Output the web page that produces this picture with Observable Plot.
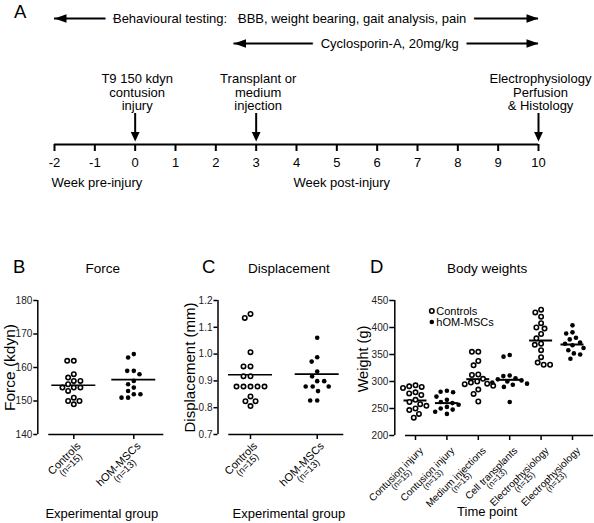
<!DOCTYPE html>
<html><head><meta charset="utf-8">
<script src="https://cdn.jsdelivr.net/npm/d3@7"></script>
<script src="https://cdn.jsdelivr.net/npm/@observablehq/plot@0.6"></script>
<style>
body{margin:0;background:#fff;}
#root{position:relative;width:594px;height:523px;overflow:hidden;font-family:"Liberation Sans",Arial,Helvetica,sans-serif;color:#000;}
.panel{position:absolute;}
.letter{position:absolute;font-size:18.5px;line-height:1;}
</style></head><body><div id="root"></div>
<script>
// ---------- DATA ----------
// Panel A: timeline
const weeks = [-2, -1, 0, 1, 2, 3, 4, 5, 6, 7, 8, 9, 10];
const periodNames = ["Behavioural testing:\u00a0\u00a0\u00a0BBB, weight bearing, gait analysis, pain", "Cyclosporin-A, 20mg/kg"];
const periodStart = [-2, 2.45];
const periodEnd = [10, 10];
const periodLabelAt = [3.83, 6.31];
const eventWeeks = [0, 3, 10];
const eventLabels = ["T9 150 kdyn\ncontusion\ninjury", "Transplant or\nmedium\ninjection", "Electrophysiology\nPerfusion\n& Histology"];
const phaseLabels = ["Week pre-injury", "Week post-injury"];
const phaseAt = [-2, 4];

// Panels B & C
const groupsBC = ["Controls", "hOM-MSCs"];
const groupNBC = ["(n=15)", "(n=13)"];
const forceControls = [162, 162, 158, 157, 156, 156, 155, 154, 154, 154, 153, 151, 150, 150, 149];
const forceMSC = [164, 163, 159, 159, 158, 156, 155, 154, 153, 152, 152, 151, 151];
const forceMeans = [154.7, 156.4];
const forceTicks = [140, 150, 160, 170, 180];

const dispControls = [1.15, 1.135, 1.007, 0.954, 0.954, 0.917, 0.917, 0.879, 0.879, 0.879, 0.879, 0.879, 0.842, 0.824, 0.824, 0.806];
const dispMSC = [1.061, 0.988, 0.972, 0.935, 0.917, 0.899, 0.899, 0.879, 0.879, 0.879, 0.862, 0.827, 0.827];
const dispMeans = [0.923, 0.925];
const dispTicks = [0.7, 0.8, 0.9, 1.0, 1.1, 1.2];

// Panel D
const groupsD = ["Contusion injury", "Contusion injury", "Medium injections", "Cell transplants", "Electrophysiology", "Electrophysiology"];
const groupND = ["(n=15)", "(n=13)", "(n=15)", "(n=13)", "(n=15)", "(n=13)"];
const seriesNames = ["Controls", "hOM-MSCs"];
const weightContusionCtrl = [293, 291, 290, 288, 280, 278, 275, 266, 262, 258, 255, 250, 247, 240, 233];
const weightContusionMSC = [283, 281, 280, 272, 266, 262, 260, 257, 253, 250, 248, 244, 240];
const weightMediumCtrl = [355, 355, 338, 330, 313, 312, 305, 300, 298, 296, 295, 292, 285, 277, 263];
const weightTransplantMSC = [349, 346, 311, 310, 306, 304, 302, 300, 298, 296, 294, 290, 262];
const weightElectroCtrl = [433, 428, 420, 408, 400, 398, 388, 380, 370, 368, 358, 345, 335, 331, 331];
const weightElectroMSC = [404, 391, 389, 381, 378, 372, 370, 367, 362, 358, 352, 350, 342];
const weightMeans = [264.8, 260, 304.3, 303.1, 375.9, 368.5];
const weightTicks = [200, 250, 300, 350, 400, 450];

// ---------- HELPERS ----------
const FONT = '"Liberation Sans", Arial, Helvetica, sans-serif';
const root = document.getElementById("root");
const baseStyle = {fontFamily: FONT, fontSize: "10px", background: "transparent", overflow: "visible", maxWidth: "none", color: "black"};
const cv = document.createElement("canvas").getContext("2d");
function textWidth(s, size) { cv.font = `${size}px ${FONT}`; return cv.measureText(s).width; }
function place(node, left, top) {
  const d = document.createElement("div");
  d.className = "panel"; d.style.left = left + "px"; d.style.top = top + "px";
  d.appendChild(node); root.appendChild(d);
}
function letter(t, left, top) {
  const d = document.createElement("div");
  d.className = "letter"; d.textContent = t; d.style.left = left + "px"; d.style.top = top + "px";
  root.appendChild(d);
}
const headRight = {draw(c) { c.moveTo(0, 0); c.lineTo(-12, -4.3); c.lineTo(-12, 4.3); c.closePath(); }};
const headLeft = {draw(c) { c.moveTo(0, 0); c.lineTo(12, -4.3); c.lineTo(12, 4.3); c.closePath(); }};
const headDown = {draw(c) { c.moveTo(0, 0); c.lineTo(-4.4, -9.5); c.lineTo(4.4, -9.5); c.closePath(); }};

function swarm(ys, d) {
  const order = d3.range(ys.length).sort((a, b) => ys[a] - ys[b]);
  const placed = [], out = new Array(ys.length);
  for (const i of order) {
    const y = ys[i];
    const cands = [0];
    for (const p of placed) {
      const dy = Math.abs(p.y - y);
      if (dy < d) { const dx = Math.sqrt(d * d - dy * dy); cands.push(p.x - dx, p.x + dx); }
    }
    cands.sort((a, b) => Math.abs(a) - Math.abs(b) || a - b);
    let best = 0;
    for (const c of cands) {
      if (placed.every(p => (p.x - c) ** 2 + (p.y - y) ** 2 >= d * d - 1e-6)) { best = c; break; }
    }
    out[i] = best; placed.push({x: best, y});
  }
  return out;
}

function catLabels(names, ns, o) {
  const u = Math.SQRT1_2;
  return names.flatMap((name, i) => {
    const w = textWidth(name, o.size1);
    return [
      Plot.text([i], {x: d => d, frameAnchor: "bottom", lineAnchor: "middle", text: () => name, rotate: -45, textAnchor: "end", fontSize: o.size1, dx: o.ax, dy: o.ay}),
      Plot.text([i], {x: d => d, frameAnchor: "bottom", lineAnchor: "middle", text: () => ns[i], rotate: -45, textAnchor: "middle", fontSize: o.size2,
        dx: o.ax - u * w / 2 + u * o.gap, dy: o.ay + u * w / 2 + u * o.gap})
    ];
  });
}

// ---------- PANEL A ----------
const periods = periodNames.map((name, i) => ({name, from: periodStart[i], to: periodEnd[i], at: periodLabelAt[i]}));
const events = eventWeeks.map((week, i) => ({week, label: eventLabels[i]}));
const A = {width: 594, height: 200, marginTop: 0, marginBottom: 56};
const frameBottomA = A.height - A.marginBottom;
const frameCenterA = (A.marginTop + A.height - A.marginBottom) / 2;
const plotA = Plot.plot({
  width: A.width, height: A.height,
  marginLeft: 54, marginRight: 56, marginTop: A.marginTop, marginBottom: A.marginBottom,
  x: {domain: [weeks[0], weeks[weeks.length - 1]]},
  y: {type: "point", domain: periodNames, range: [17.5, 42.7], padding: 0, axis: null},
  style: {...baseStyle, fontSize: "13px"},
  marks: [
    Plot.ruleY(periods, {y: "name", x1: "from", x2: "to", strokeWidth: 2}),
    Plot.dot(periods, {y: "name", x: "from", symbol: headLeft, fill: "black", stroke: "none"}),
    Plot.dot(periods, {y: "name", x: "to", symbol: headRight, fill: "black", stroke: "none"}),
    Plot.text(periods, {y: "name", x: "at", text: "name", fill: "black", stroke: "white", strokeWidth: 17, paintOrder: "stroke", fontSize: 13}),
    Plot.ruleX(events, {x: "week", insetTop: 113, insetBottom: 11, strokeWidth: 2}),
    Plot.dot(events, {x: "week", frameAnchor: "top", dy: 141, symbol: headDown, fill: "black", stroke: "none"}),
    Plot.text(events, {x: "week", text: "label", frameAnchor: "top", lineAnchor: "middle", textAnchor: "middle", dy: 92, dx: 2, lineHeight: 1.04, fontSize: 13}),
    Plot.ruleY([{from: weeks[0], to: weeks[weeks.length - 1]}], {x1: "from", x2: "to", y: null, dy: frameBottomA - frameCenterA, strokeWidth: 2}),
    Plot.axisX(weeks, {tickSize: 7, tickPadding: 6.5, strokeWidth: 2, fontSize: 13, tickFormat: d => `${d}`, label: null, fill: "black"}),
    Plot.text(phaseLabels, {x: (d, i) => phaseAt[i], text: d => d, frameAnchor: "bottom", lineAnchor: "middle", dy: 38.7, dx: -3, textAnchor: "start", fontSize: 13})
  ]
});
place(plotA, 0, 0);

// ---------- DOT PANELS ----------
function dotPanel(c) {
  const height = 273, marginTop = 50;
  const n = c.groups.length;
  const yPx = d3.scaleLinear(c.yDomain, [height - c.marginBottom, marginTop]);
  const spacing = (c.xRange[1] - c.xRange[0]) / (n - 1);
  const pts = [];
  c.series.forEach((vals, g) => {
    const offs = swarm(vals.map(yPx), c.minDist);
    vals.forEach((v, k) => pts.push({g, value: v, xi: g + offs[k] / spacing, open: c.open[g]}));
  });
  const hw = c.meanHalfPx / spacing;
  const axisAt = (c.marginLeft - c.xRange[0]) / spacing; // frame left, in group units
  const marks = [
    Plot.ruleX([axisAt], {y1: c.yDomain[0], y2: c.yDomain[1], strokeWidth: 1.5}),
    Plot.axisY(c.ticks, {tickSize: c.tickSize || 4, tickPadding: 1.5, strokeWidth: 1.5, fontSize: 10, tickFormat: c.tickFormat, label: null, fill: "#222"}),
    Plot.axisX(d3.range(n), {tickSize: 5, strokeWidth: 1.5, tickFormat: () => "", label: null}),
    Plot.ruleY([c.yDomain[0]], {insetLeft: c.baseInset, strokeWidth: 1.5}),
    Plot.ruleY(c.means, {y: d => d, x1: (d, i) => i - hw, x2: (d, i) => i + hw, strokeWidth: c.meanWidth}),
    Plot.dot(pts.filter(p => p.open), {x: "xi", y: "value", r: 2.2, stroke: "black", strokeWidth: 1.6, fill: "white"}),
    Plot.dot(pts.filter(p => !p.open), {x: "xi", y: "value", r: 2.3, fill: "black", stroke: "none"}),
    Plot.text([c.title], {frameAnchor: "top", lineAnchor: "middle", textAnchor: "middle", dy: -32, dx: c.titleDx, fontSize: 13.5}),
    Plot.text([c.yLabel], {frameAnchor: "left", lineAnchor: "middle", textAnchor: "middle", rotate: -90, dx: c.yLabelDx, dy: c.yLabelDy || 0, fontSize: c.yLabelSize}),
    Plot.text([c.xLabel], {frameAnchor: "bottom", lineAnchor: "middle", textAnchor: "middle", dy: c.xLabelDy, dx: c.xLabelDx, fontSize: 13}),
    ...catLabels(c.groups, c.ns, c.cat),
    ...(c.legend || [])
  ];
  const p = Plot.plot({
    width: c.width, height, marginTop, marginBottom: c.marginBottom,
    marginLeft: c.marginLeft, marginRight: c.marginRight,
    x: {domain: [0, n - 1], range: c.xRange},
    y: {domain: c.yDomain},
    style: baseStyle,
    marks
  });
  place(p, c.left, 250);
}

// Panel B
dotPanel({
  left: 0, width: 190, marginLeft: 37.3, marginRight: 26.7, marginBottom: 89,
  xRange: [73.3, 133.3], yDomain: [forceTicks[0], forceTicks[forceTicks.length - 1]], ticks: forceTicks, tickFormat: d => `${d}`,
  groups: groupsBC, ns: groupNBC, series: [forceControls, forceMSC], open: [true, false], means: forceMeans,
  minDist: 6.6, meanHalfPx: 22, meanWidth: 1.7, baseInset: 11,
  title: "Force", titleDx: 2, yLabel: "Force (kdyn)", yLabelDx: -27.3, yLabelSize: 15.5,
  xLabel: "Experimental group", xLabelDx: 1, xLabelDy: 79,
  cat: {size1: 11, size2: 9.5, ax: 5, ay: 9.5, gap: 9}
});

// Panel C
dotPanel({
  left: 170, width: 210, marginLeft: 47.5, marginRight: 36.7, marginBottom: 89,
  xRange: [80, 146.7], yDomain: [dispTicks[0], dispTicks[dispTicks.length - 1]], ticks: dispTicks, tickFormat: d3.format(".1f"),
  groups: groupsBC, ns: groupNBC, series: [dispControls, dispMSC], open: [true, false], means: dispMeans,
  minDist: 7, meanHalfPx: 22, meanWidth: 1.7, baseInset: 10.8,
  title: "Displacement", titleDx: 8, yLabel: "Displacement (mm)", yLabelDx: -28, yLabelSize: 15,
  xLabel: "Experimental group", xLabelDx: 8, xLabelDy: 79,
  cat: {size1: 11, size2: 9.5, ax: 5, ay: 9.5, gap: 9}
});

// Panel D
const legendD = seriesNames.flatMap((name, i) => [
  Plot.dot([name], {frameAnchor: "top-left", dx: 37, dy: 10.5 + i * 11, r: i ? 2.3 : 2.2,
    stroke: i ? "none" : "black", strokeWidth: 1.6, fill: i ? "black" : "white"}),
  Plot.text([name], {frameAnchor: "top-left", lineAnchor: "middle", dx: 41.5, dy: 10.5 + i * 11, text: d => d, textAnchor: "start", fontSize: 11})
]);
dotPanel({
  left: 340, width: 254, marginLeft: 54.3, marginRight: 1, marginBottom: 88,
  xRange: [75, 232], yDomain: [weightTicks[0], weightTicks[weightTicks.length - 1]], ticks: weightTicks, tickFormat: d => `${d}`, tickSize: 5,
  groups: groupsD, ns: groupND,
  series: [weightContusionCtrl, weightContusionMSC, weightMediumCtrl, weightTransplantMSC, weightElectroCtrl, weightElectroMSC],
  open: [true, false, true, false, true, false], means: weightMeans,
  minDist: 6.4, meanHalfPx: 11.5, meanWidth: 2, baseInset: 10.7,
  title: "Body weights", titleDx: -7, yLabel: "Weight (g)", yLabelDx: -31, yLabelDy: -9, yLabelSize: 14.5,
  xLabel: "Time point", xLabelDx: -7, xLabelDy: 76,
  cat: {size1: 10, size2: 8.5, ax: 6, ay: 13.5, gap: 7.5},
  legend: legendD
});

// Panel letters
letter("A", 14, 2.5);
letter("B", 13, 257.6);
letter("C", 202, 257.6);
letter("D", 370, 257.6);
</script></body></html>
